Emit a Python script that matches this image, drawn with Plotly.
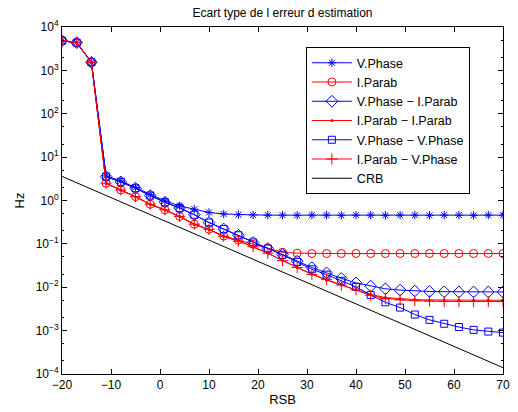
import plotly.graph_objects as go

rsb = [-20, -17, -14, -11, -8, -5, -2, 1, 4, 7, 10, 13, 16, 19, 22, 25, 28, 31,
       34, 37, 40, 43, 46, 49, 52, 55, 58, 61, 64, 67, 70]

v_phase = [4830, 4350, 1540, 3.7, 2.83, 1.98, 1.35, 0.98, 0.75, 0.63, 0.53, 0.49,
           0.47, 0.465, 0.46, 0.46, 0.455, 0.46, 0.46, 0.455, 0.46, 0.46, 0.455,
           0.46, 0.46, 0.455, 0.46, 0.46, 0.455, 0.46, 0.46]

i_parab = [4830, 4350, 1540, 2.5, 1.75, 1.23, 0.82, 0.61, 0.43, 0.284, 0.216, 0.152,
           0.122, 0.098, 0.080, 0.064, 0.061, 0.060, 0.060, 0.060, 0.060, 0.060,
           0.060, 0.060, 0.060, 0.060, 0.060, 0.060, 0.060, 0.060, 0.060]

vphase_iparab = [4830, 4350, 1540, 3.56, 2.69, 1.92, 1.30, 0.91, 0.67, 0.47, 0.31,
                 0.22, 0.158, 0.108, 0.078, 0.057, 0.040, 0.0285, 0.0215, 0.0160,
                 0.0126, 0.0106, 0.0092, 0.0086, 0.0082, 0.0080, 0.0079, 0.0078,
                 0.0078, 0.0078, 0.0078]

iparab_iparab = [4830, 4350, 1540, 2.45, 1.72, 1.21, 0.81, 0.60, 0.425, 0.28, 0.212,
                 0.148, 0.118, 0.086, 0.061, 0.0415, 0.0285, 0.0200, 0.0145, 0.0112,
                 0.0090, 0.0068, 0.0058, 0.0054, 0.0052, 0.0051, 0.0051, 0.0050,
                 0.0050, 0.0050, 0.0050]

vphase_vphase = [4830, 4350, 1540, 3.56, 2.69, 1.92, 1.30, 0.91, 0.67, 0.47, 0.31,
                 0.22, 0.158, 0.108, 0.078, 0.056, 0.038, 0.0260, 0.0195, 0.0140,
                 0.0102, 0.0066, 0.00450, 0.00340, 0.00235, 0.00177, 0.00144,
                 0.00121, 0.00104, 0.00095, 0.00090]

iparab_vphase = [4830, 4350, 1540, 2.5, 1.75, 1.23, 0.82, 0.61, 0.43, 0.284, 0.216,
                 0.150, 0.115, 0.086, 0.061, 0.041, 0.0285, 0.0198, 0.0150, 0.0112,
                 0.0087, 0.0065, 0.0055, 0.0051, 0.0049, 0.0048, 0.0047, 0.0047,
                 0.0047, 0.0047, 0.0047]

crb_x = [-20, 70]
crb = [3.6, 1.4e-4]

y_tickvals = [1e-4, 1e-3, 1e-2, 1e-1, 1, 10, 100, 1e3, 1e4]
y_ticktext = ["10<sup>−4</sup>", "10<sup>−3</sup>", "10<sup>−2</sup>", "10<sup>−1</sup>",
              "10<sup>0</sup>", "10<sup>1</sup>", "10<sup>2</sup>", "10<sup>3</sup>",
              "10<sup>4</sup>"]
x_tickvals = [-20, -10, 0, 10, 20, 30, 40, 50, 60, 70]
x_ticktext = ["−20", "−10", "0", "10", "20", "30", "40", "50", "60", "70"]

BLUE = "#0000FF"
RED = "#FF0000"

fig = go.Figure()

def add(name, y, color, symbol, size, mlw=1):
    fig.add_trace(go.Scatter(
        x=rsb, y=y, name=name, mode="lines+markers",
        line=dict(color=color, width=1),
        marker=dict(symbol=symbol, size=size, color=color,
                    line=dict(color=color, width=mlw)),
    ))

add("V.Phase", v_phase, BLUE, "asterisk-open", 7)
add("I.Parab", i_parab, RED, "circle-open", 8)
add("V.Phase − I.Parab", vphase_iparab, BLUE, "diamond-open", 9)
add("I.Parab − I.Parab", iparab_iparab, RED, "circle", 3, 0)
add("V.Phase − V.Phase", vphase_vphase, BLUE, "square-open", 7)
add("I.Parab − V.Phase", iparab_vphase, RED, "cross-thin-open", 8)

fig.add_trace(go.Scatter(x=crb_x, y=crb, name="CRB", mode="lines",
                         line=dict(color="black", width=1)))

fig.update_layout(
    width=518, height=412,
    margin=dict(l=62, r=15, t=27, b=38),
    paper_bgcolor="white", plot_bgcolor="white",
    font=dict(family="Liberation Sans, Arial, sans-serif", size=12, color="black"),
    title=dict(text="Ecart type de l erreur d estimation", x=0.5, xref="paper",
               y=0.970, yref="container", yanchor="middle", automargin=False,
               font=dict(size=12, color="black")),
    showlegend=True,
    legend=dict(x=0.553, y=0.942, xanchor="left", yanchor="top",
                bgcolor="white", bordercolor="black", borderwidth=1,
                font=dict(size=12.5), tracegroupgap=0, itemwidth=40),
    xaxis=dict(range=[-20, 70], tickvals=x_tickvals, ticktext=x_ticktext,
               ticks="inside", ticklen=5, tickcolor="black", mirror="ticks",
               showline=True, linecolor="black", linewidth=1,
               showgrid=False, zeroline=False, automargin=False,
               tickfont=dict(size=12),
               title=dict(text="RSB", standoff=3, font=dict(size=13))),
    yaxis=dict(type="log", range=[-4, 4], tickvals=y_tickvals, ticktext=y_ticktext,
               ticks="inside", ticklen=5, tickcolor="black", mirror="ticks",
               showline=True, linecolor="black", linewidth=1,
               showgrid=False, zeroline=False, automargin=False,
               tickfont=dict(size=12),
               minor=dict(ticks="inside", ticklen=2, tickcolor="black", showgrid=False),
               title=dict(text="Hz", standoff=8, font=dict(size=13))),
)

fig.write_html("out.html",
               config={"displayModeBar": False, "staticPlot": True},
               post_script="document.body.style.margin='0px';"
                           "document.body.style.overflow='hidden';")
